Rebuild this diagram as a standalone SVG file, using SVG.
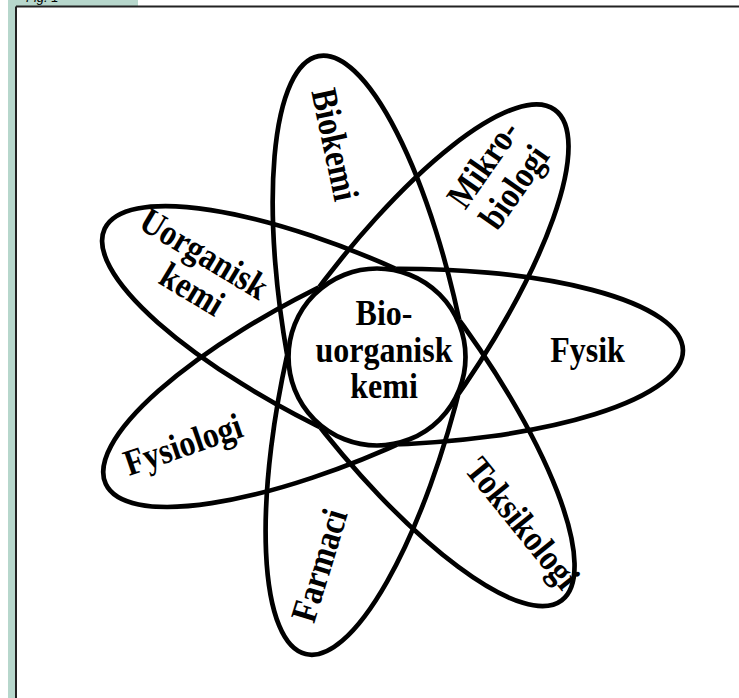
<svg xmlns="http://www.w3.org/2000/svg" width="739" height="698" viewBox="0 0 739 698">
<style>
.lobe{fill:none;stroke:#000;stroke-width:4.7}
.lbl{font-family:"Liberation Serif","Times New Roman",serif;font-weight:bold;font-size:32px;fill:#000;text-anchor:middle}
</style>
<defs>
<clipPath id="cB"><polygon points="0,0 106.1,-488.6 520,-500 520,500 113.3,487"/></clipPath>
<clipPath id="cMi"><polygon points="0,0 126,-483.9 520,-500 520,500 96.3,490.6"/></clipPath>
<clipPath id="cFk"><polygon points="0,0 114.6,-486.7 520,-500 520,500 103.1,489.3"/></clipPath>
<clipPath id="cT"><polygon points="0,0 113.3,-487 520,-500 520,500 119.3,485.6"/></clipPath>
<clipPath id="cFa"><polygon points="0,0 96.3,-490.6 520,-500 520,500 106.1,488.6"/></clipPath>
<clipPath id="cFs"><polygon points="0,0 103.1,-489.3 520,-500 520,500 126,483.9"/></clipPath>
<clipPath id="cU"><polygon points="0,0 119.3,-485.6 520,-500 520,500 114.6,486.7"/></clipPath>
</defs>
<rect width="739" height="698" fill="#fff"/>
<g id="frame">
<rect x="8" y="0" width="8" height="698" fill="#b7d7cc"/>
<rect x="8" y="0" width="130" height="7" fill="#b7d7cc"/>
<text x="26" y="2" font-family="Liberation Sans, Arial, sans-serif" font-style="italic" font-size="13" fill="#000">Fig. 1</text>
<line x1="16" y1="6.5" x2="739" y2="6.5" stroke="#222" stroke-width="2"/>
<line x1="16" y1="6.5" x2="16" y2="698" stroke="#222" stroke-width="2"/>
</g>
<g id="biokemi">
<g transform="translate(377 357) rotate(-101)"><ellipse class="lobe" rx="306.5" ry="88" clip-path="url(#cB)"/></g>
<text class="lbl" transform="translate(323 147) rotate(78) scale(1 1.15)">Biokemi</text>
</g>
<g id="mikrobiologi">
<g transform="translate(377 357) rotate(-54.3)"><ellipse class="lobe" rx="304.5" ry="88" clip-path="url(#cMi)"/></g>
<text class="lbl" transform="translate(493 171) rotate(-55) scale(1 1.15)">Mikro-</text>
<text class="lbl" transform="translate(524 194) rotate(-55) scale(1 1.15)">biologi</text>
</g>
<g id="fysik">
<g transform="translate(377 357) rotate(-1.3)"><ellipse class="lobe" rx="306" ry="88" clip-path="url(#cFk)"/></g>
<text class="lbl" transform="translate(587.5 362) scale(1 1.15)">Fysik</text>
</g>
<g id="toksikologi">
<g transform="translate(377 357) rotate(52.8)"><ellipse class="lobe" rx="305.5" ry="88" clip-path="url(#cT)"/></g>
<text class="lbl" transform="translate(513 531) rotate(51) scale(1 1.15)">Toksikologi</text>
</g>
<g id="farmaci">
<g transform="translate(377 357) rotate(103.5)"><ellipse class="lobe" rx="305.5" ry="88" clip-path="url(#cFa)"/></g>
<text class="lbl" transform="translate(331 569) rotate(-73) scale(1 1.15)">Farmaci</text>
</g>
<g id="fysiologi">
<g transform="translate(377 357) rotate(154.9)"><ellipse class="lobe" rx="299.5" ry="88" clip-path="url(#cFs)"/></g>
<text class="lbl" transform="translate(187 456) rotate(-19) scale(1 1.15)">Fysiologi</text>
</g>
<g id="uorganisk-kemi">
<g transform="translate(377 357) rotate(-154.8)"><ellipse class="lobe" rx="301" ry="88" clip-path="url(#cU)"/></g>
<text class="lbl" transform="translate(198 264) rotate(31) scale(1 1.15)">Uorganisk</text>
<text class="lbl" transform="translate(186 300) rotate(31) scale(1 1.15)">kemi</text>
</g>
<g id="bio-uorganisk-kemi">
<circle cx="377" cy="357" r="88.5" fill="#fff" stroke="#000" stroke-width="4.7"/>
<text class="lbl" transform="translate(384 325) scale(1 1.15)">Bio-</text>
<text class="lbl" transform="translate(384 362) scale(1 1.15)">uorganisk</text>
<text class="lbl" transform="translate(384 398) scale(1 1.15)">kemi</text>
</g>
<g id="connectors"/>
</svg>
